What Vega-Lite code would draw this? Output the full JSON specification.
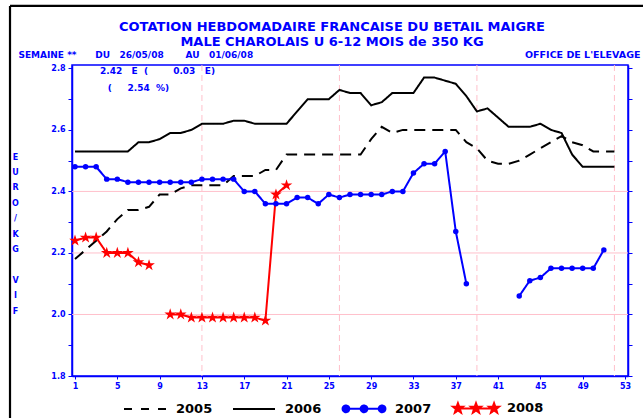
{
  "$schema": "https://vega.github.io/schema/vega-lite/v6.json",
  "autosize": {"type": "none"},
  "width": 556,
  "height": 311,
  "padding": {"left": 72, "top": 65, "right": 15, "bottom": 42},
  "background": "#ffffff",
  "config": {
    "view": {"stroke": "#0000ff", "strokeWidth": 1.5},
    "font": "DejaVu Sans"
  },
  "title": {
    "text": ["COTATION HEBDOMADAIRE FRANCAISE DU BETAIL MAIGRE", "MALE CHAROLAIS U 6-12 MOIS de 350 KG"],
    "anchor": "middle",
    "dx": -18,
    "offset": -44,
    "color": "#0000ff",
    "font": "DejaVu Sans",
    "fontSize": 13,
    "fontWeight": "bold",
    "lineHeight": 15
  },
  "datasets": {
    "prices": [
      {"year": "2005", "week": 1, "value": 2.18}, {"year": "2005", "week": 2, "value": 2.21}, {"year": "2005", "week": 3, "value": 2.24}, {"year": "2005", "week": 4, "value": 2.27},
      {"year": "2005", "week": 5, "value": 2.31}, {"year": "2005", "week": 6, "value": 2.34}, {"year": "2005", "week": 7, "value": 2.34}, {"year": "2005", "week": 8, "value": 2.35},
      {"year": "2005", "week": 9, "value": 2.39}, {"year": "2005", "week": 10, "value": 2.39}, {"year": "2005", "week": 11, "value": 2.41}, {"year": "2005", "week": 12, "value": 2.42},
      {"year": "2005", "week": 13, "value": 2.42}, {"year": "2005", "week": 14, "value": 2.42}, {"year": "2005", "week": 15, "value": 2.42}, {"year": "2005", "week": 16, "value": 2.45},
      {"year": "2005", "week": 17, "value": 2.45}, {"year": "2005", "week": 18, "value": 2.45}, {"year": "2005", "week": 19, "value": 2.47}, {"year": "2005", "week": 20, "value": 2.47},
      {"year": "2005", "week": 21, "value": 2.52}, {"year": "2005", "week": 22, "value": 2.52}, {"year": "2005", "week": 23, "value": 2.52}, {"year": "2005", "week": 24, "value": 2.52},
      {"year": "2005", "week": 25, "value": 2.52}, {"year": "2005", "week": 26, "value": 2.52}, {"year": "2005", "week": 27, "value": 2.52}, {"year": "2005", "week": 28, "value": 2.52},
      {"year": "2005", "week": 29, "value": 2.57}, {"year": "2005", "week": 30, "value": 2.61}, {"year": "2005", "week": 31, "value": 2.59}, {"year": "2005", "week": 32, "value": 2.6},
      {"year": "2005", "week": 33, "value": 2.6}, {"year": "2005", "week": 34, "value": 2.6}, {"year": "2005", "week": 35, "value": 2.6}, {"year": "2005", "week": 36, "value": 2.6},
      {"year": "2005", "week": 37, "value": 2.6}, {"year": "2005", "week": 38, "value": 2.56}, {"year": "2005", "week": 39, "value": 2.54}, {"year": "2005", "week": 40, "value": 2.5},
      {"year": "2005", "week": 41, "value": 2.49}, {"year": "2005", "week": 42, "value": 2.49}, {"year": "2005", "week": 43, "value": 2.5}, {"year": "2005", "week": 44, "value": 2.52},
      {"year": "2005", "week": 45, "value": 2.54}, {"year": "2005", "week": 46, "value": 2.56}, {"year": "2005", "week": 47, "value": 2.58}, {"year": "2005", "week": 48, "value": 2.56},
      {"year": "2005", "week": 49, "value": 2.55}, {"year": "2005", "week": 50, "value": 2.53}, {"year": "2005", "week": 51, "value": 2.53}, {"year": "2005", "week": 52, "value": 2.53},

      {"year": "2006", "week": 1, "value": 2.53}, {"year": "2006", "week": 2, "value": 2.53}, {"year": "2006", "week": 3, "value": 2.53}, {"year": "2006", "week": 4, "value": 2.53},
      {"year": "2006", "week": 5, "value": 2.53}, {"year": "2006", "week": 6, "value": 2.53}, {"year": "2006", "week": 7, "value": 2.56}, {"year": "2006", "week": 8, "value": 2.56},
      {"year": "2006", "week": 9, "value": 2.57}, {"year": "2006", "week": 10, "value": 2.59}, {"year": "2006", "week": 11, "value": 2.59}, {"year": "2006", "week": 12, "value": 2.6},
      {"year": "2006", "week": 13, "value": 2.62}, {"year": "2006", "week": 14, "value": 2.62}, {"year": "2006", "week": 15, "value": 2.62}, {"year": "2006", "week": 16, "value": 2.63},
      {"year": "2006", "week": 17, "value": 2.63}, {"year": "2006", "week": 18, "value": 2.62}, {"year": "2006", "week": 19, "value": 2.62}, {"year": "2006", "week": 20, "value": 2.62},
      {"year": "2006", "week": 21, "value": 2.62}, {"year": "2006", "week": 22, "value": 2.66}, {"year": "2006", "week": 23, "value": 2.7}, {"year": "2006", "week": 24, "value": 2.7},
      {"year": "2006", "week": 25, "value": 2.7}, {"year": "2006", "week": 26, "value": 2.73}, {"year": "2006", "week": 27, "value": 2.72}, {"year": "2006", "week": 28, "value": 2.72},
      {"year": "2006", "week": 29, "value": 2.68}, {"year": "2006", "week": 30, "value": 2.69}, {"year": "2006", "week": 31, "value": 2.72}, {"year": "2006", "week": 32, "value": 2.72},
      {"year": "2006", "week": 33, "value": 2.72}, {"year": "2006", "week": 34, "value": 2.77}, {"year": "2006", "week": 35, "value": 2.77}, {"year": "2006", "week": 36, "value": 2.76},
      {"year": "2006", "week": 37, "value": 2.75}, {"year": "2006", "week": 38, "value": 2.71}, {"year": "2006", "week": 39, "value": 2.66}, {"year": "2006", "week": 40, "value": 2.67},
      {"year": "2006", "week": 41, "value": 2.64}, {"year": "2006", "week": 42, "value": 2.61}, {"year": "2006", "week": 43, "value": 2.61}, {"year": "2006", "week": 44, "value": 2.61},
      {"year": "2006", "week": 45, "value": 2.62}, {"year": "2006", "week": 46, "value": 2.6}, {"year": "2006", "week": 47, "value": 2.59}, {"year": "2006", "week": 48, "value": 2.52},
      {"year": "2006", "week": 49, "value": 2.48}, {"year": "2006", "week": 50, "value": 2.48}, {"year": "2006", "week": 51, "value": 2.48}, {"year": "2006", "week": 52, "value": 2.48},

      {"year": "2007", "week": 1, "value": 2.48}, {"year": "2007", "week": 2, "value": 2.48}, {"year": "2007", "week": 3, "value": 2.48}, {"year": "2007", "week": 4, "value": 2.44},
      {"year": "2007", "week": 5, "value": 2.44}, {"year": "2007", "week": 6, "value": 2.43}, {"year": "2007", "week": 7, "value": 2.43}, {"year": "2007", "week": 8, "value": 2.43},
      {"year": "2007", "week": 9, "value": 2.43}, {"year": "2007", "week": 10, "value": 2.43}, {"year": "2007", "week": 11, "value": 2.43}, {"year": "2007", "week": 12, "value": 2.43},
      {"year": "2007", "week": 13, "value": 2.44}, {"year": "2007", "week": 14, "value": 2.44}, {"year": "2007", "week": 15, "value": 2.44}, {"year": "2007", "week": 16, "value": 2.44},
      {"year": "2007", "week": 17, "value": 2.4}, {"year": "2007", "week": 18, "value": 2.4}, {"year": "2007", "week": 19, "value": 2.36}, {"year": "2007", "week": 20, "value": 2.36},
      {"year": "2007", "week": 21, "value": 2.36}, {"year": "2007", "week": 22, "value": 2.38}, {"year": "2007", "week": 23, "value": 2.38}, {"year": "2007", "week": 24, "value": 2.36},
      {"year": "2007", "week": 25, "value": 2.39}, {"year": "2007", "week": 26, "value": 2.38}, {"year": "2007", "week": 27, "value": 2.39}, {"year": "2007", "week": 28, "value": 2.39},
      {"year": "2007", "week": 29, "value": 2.39}, {"year": "2007", "week": 30, "value": 2.39}, {"year": "2007", "week": 31, "value": 2.4}, {"year": "2007", "week": 32, "value": 2.4},
      {"year": "2007", "week": 33, "value": 2.46}, {"year": "2007", "week": 34, "value": 2.49}, {"year": "2007", "week": 35, "value": 2.49}, {"year": "2007", "week": 36, "value": 2.53},
      {"year": "2007", "week": 37, "value": 2.27}, {"year": "2007", "week": 38, "value": 2.1}, {"year": "2007", "week": 39, "value": null}, {"year": "2007", "week": 42, "value": null},
      {"year": "2007", "week": 43, "value": 2.06}, {"year": "2007", "week": 44, "value": 2.11}, {"year": "2007", "week": 45, "value": 2.12}, {"year": "2007", "week": 46, "value": 2.15},
      {"year": "2007", "week": 47, "value": 2.15}, {"year": "2007", "week": 48, "value": 2.15}, {"year": "2007", "week": 49, "value": 2.15}, {"year": "2007", "week": 50, "value": 2.15},
      {"year": "2007", "week": 51, "value": 2.21},

      {"year": "2008", "week": 1, "value": 2.24}, {"year": "2008", "week": 2, "value": 2.25}, {"year": "2008", "week": 3, "value": 2.25}, {"year": "2008", "week": 4, "value": 2.2},
      {"year": "2008", "week": 5, "value": 2.2}, {"year": "2008", "week": 6, "value": 2.2}, {"year": "2008", "week": 7, "value": 2.17}, {"year": "2008", "week": 8, "value": 2.16},
      {"year": "2008", "week": 9, "value": null}, {"year": "2008", "week": 10, "value": 2.0}, {"year": "2008", "week": 11, "value": 2.0}, {"year": "2008", "week": 12, "value": 1.99},
      {"year": "2008", "week": 13, "value": 1.99}, {"year": "2008", "week": 14, "value": 1.99}, {"year": "2008", "week": 15, "value": 1.99}, {"year": "2008", "week": 16, "value": 1.99},
      {"year": "2008", "week": 17, "value": 1.99}, {"year": "2008", "week": 18, "value": 1.99}, {"year": "2008", "week": 19, "value": 1.98}, {"year": "2008", "week": 20, "value": 2.39},
      {"year": "2008", "week": 21, "value": 2.42}
    ],
    "hgrid": [{"level": 2.0}, {"level": 2.2}, {"level": 2.4}],
    "vgrid": [{"quarter": 13}, {"quarter": 26}, {"quarter": 39}, {"quarter": 52}],
    "notes": [
      {"note": "2.42\u00a0\u00a0\u00a0E\u00a0\u00a0(\u00a0\u00a0\u00a0\u00a0\u00a0\u00a0\u00a0\u00a00.03\u00a0\u00a0\u00a0E)", "at_week": 3.36, "at_value": 2.791},
      {"note": "(\u00a0\u00a0\u00a0\u00a0\u00a02.54\u00a0\u00a0%)", "at_week": 4.09, "at_value": 2.736}
    ]
  },
  "resolve": {"axis": {"y": "independent"}},
  "layer": [
    {
      "data": {"name": "hgrid"},
      "mark": {"type": "rule", "color": "#ffc0cb", "strokeWidth": 1},
      "encoding": {
        "y": {
          "field": "level", "type": "quantitative",
          "scale": {"domain": [1.8, 2.811], "nice": false, "zero": false},
          "axis": {
            "orient": "right", "values": [1.8, 1.9, 2.0, 2.1, 2.2, 2.3, 2.4, 2.5, 2.6, 2.7, 2.8],
            "labels": false, "title": null, "grid": false,
            "domainColor": "#0000ff", "domainWidth": 1.5, "tickColor": "#0000ff", "tickSize": 4, "tickWidth": 1
          }
        }
      }
    },
    {
      "data": {"name": "vgrid"},
      "mark": {"type": "rule", "color": "#ffc0cb", "strokeWidth": 1, "strokeDash": [6, 4]},
      "encoding": {
        "x": {"field": "quarter", "type": "quantitative"}
      }
    },
    {
      "data": {"name": "prices"},
      "mark": {"type": "line", "strokeWidth": 2},
      "encoding": {
        "x": {
          "field": "week", "type": "quantitative",
          "scale": {"domain": [0.716, 53.284], "nice": false, "zero": false},
          "axis": {
            "values": [1,2,3,4,5,6,7,8,9,10,11,12,13,14,15,16,17,18,19,20,21,22,23,24,25,26,27,28,29,30,31,32,33,34,35,36,37,38,39,40,41,42,43,44,45,46,47,48,49,50,51,52,53],
            "format": "d", "title": null, "grid": false,
            "labelFlush": false, "labelOverlap": "parity",
            "labelColor": "#0000ff", "labelFont": "DejaVu Sans", "labelFontSize": 8, "labelFontWeight": "bold", "labelPadding": 3,
            "domainColor": "#0000ff", "domainWidth": 1.5, "tickColor": "#0000ff", "tickSize": 3, "tickWidth": 1
          }
        },
        "y": {
          "field": "value", "type": "quantitative",
          "axis": {
            "orient": "left",
            "values": [1.8, 1.9, 2.0, 2.1, 2.2, 2.3, 2.4, 2.5, 2.6, 2.7, 2.8],
            "labelExpr": "round(datum.value * 10) % 2 == 0 ? format(datum.value, '.1f') : ''",
            "grid": false,
            "labelColor": "#0000ff", "labelFont": "DejaVu Sans", "labelFontSize": 8, "labelFontWeight": "bold", "labelPadding": 3,
            "domainColor": "#0000ff", "domainWidth": 1.5, "tickColor": "#0000ff", "tickSize": 4, "tickWidth": 1,
            "title": ["E", "U", "R", "O", "/", "K", "G", "\u2800", "V", "I", "F"],
            "titleAngle": 0, "titleX": -57, "titleY": 88, "titleBaseline": "top", "titleAlign": "center",
            "titleColor": "#0000ff", "titleFont": "DejaVu Sans", "titleFontSize": 8, "titleFontWeight": "bold", "titleLineHeight": 15.4
          }
        },
        "color": {
          "field": "year", "type": "nominal",
          "scale": {"domain": ["2005", "2006", "2007", "2008"], "range": ["#000000", "#000000", "#0000ff", "#ff0000"]},
          "legend": {
            "title": null, "orient": "none", "legendX": 51, "legendY": 321,
            "direction": "horizontal", "columns": 4, "columnPadding": 16,
            "symbolSize": 1764, "symbolStrokeWidth": 2, "symbolType": "stroke",
            "labelFont": "DejaVu Sans", "labelFontSize": 13, "labelFontWeight": "bold", "labelColor": "#000000", "labelOffset": 9,
            "encode": {
              "symbols": {
                "update": {
                  "shape": [
                    {"test": "datum.value === '2005'", "value": "M-1,0L-0.62,0M-0.19,0L0.19,0M0.62,0L1,0"},
                    {"test": "datum.value === '2006'", "value": "M-1,0L1,0"},
                    {"test": "datum.value === '2007'", "value": "M-1,0L1,0M-1.02,0A0.16,0.16 0 1,0 -0.7,0A0.16,0.16 0 1,0 -1.02,0ZM-0.16,0A0.16,0.16 0 1,0 0.16,0A0.16,0.16 0 1,0 -0.16,0ZM0.7,0A0.16,0.16 0 1,0 1.02,0A0.16,0.16 0 1,0 0.7,0Z"},
                    {"value": "M-1,0L1,0M-0.86,-0.25L-0.8,-0.082L-0.622,-0.077L-0.763,0.031L-0.713,0.202L-0.86,0.102L-1.007,0.202L-0.957,0.031L-1.098,-0.077L-0.92,-0.082ZM0,-0.25L0.06,-0.082L0.238,-0.077L0.097,0.031L0.147,0.202L0,0.102L-0.147,0.202L-0.097,0.031L-0.238,-0.077L-0.06,-0.082ZM0.86,-0.25L0.92,-0.082L1.098,-0.077L0.957,0.031L1.007,0.202L0.86,0.102L0.713,0.202L0.763,0.031L0.622,-0.077L0.8,-0.082Z"}
                  ],
                  "fill": [
                    {"test": "datum.value === '2007'", "value": "#0000ff"},
                    {"test": "datum.value === '2008'", "value": "#ff0000"},
                    {"value": "transparent"}
                  ],
                  "strokeWidth": {"value": 2}
                }
              }
            }
          }
        },
        "strokeDash": {
          "field": "year", "type": "nominal",
          "scale": {"domain": ["2005", "2006", "2007", "2008"], "range": [[11, 7], [1, 0], [1, 0], [1, 0]]},
          "legend": null
        }
      }
    },
    {
      "data": {"name": "prices"},
      "transform": [{"filter": "datum.year === '2007' && isValid(datum.value)"}],
      "mark": {"type": "point", "shape": "circle", "filled": true, "color": "#0000ff", "size": 30, "opacity": 1},
      "encoding": {
        "x": {"field": "week", "type": "quantitative"},
        "y": {"field": "value", "type": "quantitative", "axis": null}
      }
    },
    {
      "data": {"name": "prices"},
      "transform": [{"filter": "datum.year === '2008' && isValid(datum.value)"}],
      "mark": {"type": "point", "shape": "M0,-1L0.2245,-0.309L0.951,-0.309L0.363,0.118L0.588,0.809L0,0.382L-0.588,0.809L-0.363,0.118L-0.951,-0.309L-0.2245,-0.309Z", "filled": true, "color": "#ff0000", "size": 150, "opacity": 1},
      "encoding": {
        "x": {"field": "week", "type": "quantitative"},
        "y": {"field": "value", "type": "quantitative", "axis": null}
      }
    },
    {
      "data": {"name": "notes"},
      "mark": {"type": "text", "align": "left", "baseline": "middle", "font": "DejaVu Sans", "fontSize": 9, "fontWeight": "bold", "color": "#0000ff"},
      "encoding": {
        "x": {"field": "at_week", "type": "quantitative"},
        "y": {"field": "at_value", "type": "quantitative", "axis": null},
        "text": {"field": "note"}
      }
    },
    {
      "data": {"values": [{}]},
      "mark": {"type": "text", "align": "left", "baseline": "middle", "font": "DejaVu Sans", "fontSize": 9, "fontWeight": "bold", "color": "#0000ff"},
      "encoding": {
        "x": {"datum": -4.35, "type": "quantitative"},
        "y": {"datum": 2.843, "type": "quantitative", "axis": null},
        "text": {"value": "SEMAINE **\u00a0\u00a0\u00a0\u00a0\u00a0\u00a0DU\u00a0\u00a0\u00a026/05/08\u00a0\u00a0\u00a0\u00a0\u00a0\u00a0\u00a0AU\u00a0\u00a0\u00a001/06/08"}
      }
    },
    {
      "data": {"values": [{}]},
      "mark": {"type": "text", "align": "left", "baseline": "middle", "font": "DejaVu Sans", "fontSize": 9.5, "fontWeight": "bold", "color": "#0000ff"},
      "encoding": {
        "x": {"datum": 43.55, "type": "quantitative"},
        "y": {"datum": 2.843, "type": "quantitative", "axis": null},
        "text": {"value": "OFFICE DE L'ELEVAGE"}
      }
    },
    {
      "data": {"values": [{}]},
      "mark": {"type": "rule", "color": "#000000", "strokeWidth": 2.2},
      "encoding": {
        "x": {"datum": -5.145, "type": "quantitative"},
        "y": {"datum": 3.003, "type": "quantitative", "axis": null},
        "y2": {"datum": 1.5}
      }
    },
    {
      "data": {"values": [{}]},
      "mark": {"type": "rule", "color": "#000000", "strokeWidth": 2.2},
      "encoding": {
        "x": {"datum": -5.145, "type": "quantitative"},
        "x2": {"datum": 62},
        "y": {"datum": 3.003, "type": "quantitative", "axis": null}
      }
    }
  ]
}
